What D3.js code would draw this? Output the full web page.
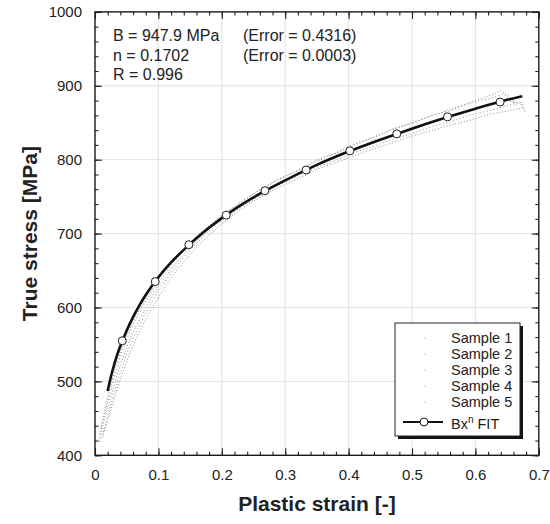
<!DOCTYPE html>
<html>
<head>
<meta charset="utf-8">
<script src="https://cdn.jsdelivr.net/npm/d3@7"></script>
<style>
  body { margin: 0; background: #fff; }
  svg text { font-family: "Liberation Sans", Arial, sans-serif; fill: #222; }
</style>
</head>
<body>
<div class="graph"></div>
<script>
// data ------------------
const xTicks = [0, 0.1, 0.2, 0.3, 0.4, 0.5, 0.6, 0.7]
const yTicks = [400, 500, 600, 700, 800, 900, 1000]

// Hollomon fit Bx^n
const fitLine = [
    [0.02, 487], [0.025, 506], [0.03, 522], [0.035, 536], [0.04, 548], [0.05, 569],
    [0.06, 587], [0.07, 603], [0.08, 617], [0.1, 641], [0.12, 661], [0.14, 678],
    [0.17, 701], [0.2, 721], [0.25, 749], [0.3, 772], [0.35, 793], [0.4, 811],
    [0.45, 827], [0.5, 842], [0.55, 856], [0.6, 869], [0.65, 881], [0.674, 886]
]
const fitMarkers = [
    [0.043, 555], [0.095, 635], [0.148, 685], [0.207, 725], [0.268, 758],
    [0.333, 786], [0.402, 812], [0.476, 835], [0.556, 858], [0.639, 878]
]

const sample1 = [
    [0.008, 428], [0.012, 447], [0.016, 463], [0.02, 478], [0.03, 512], [0.04, 540],
    [0.05, 562], [0.06, 581], [0.08, 612], [0.1, 638], [0.12, 660], [0.14, 679],
    [0.16, 696], [0.18, 711], [0.2, 725], [0.23, 743], [0.26, 759], [0.29, 773],
    [0.32, 786], [0.35, 798], [0.38, 809], [0.41, 820], [0.44, 831], [0.47, 841],
    [0.5, 850], [0.53, 859], [0.56, 868], [0.59, 877], [0.62, 886], [0.64, 893],
    [0.655, 885], [0.665, 872]
]
const sample2 = [
    [0.01, 438], [0.014, 452], [0.02, 472], [0.03, 505], [0.04, 533], [0.05, 557],
    [0.06, 577], [0.08, 608], [0.1, 634], [0.12, 657], [0.14, 677], [0.16, 694],
    [0.18, 710], [0.2, 724], [0.23, 742], [0.26, 760], [0.29, 774], [0.32, 785],
    [0.35, 800], [0.38, 809], [0.41, 822], [0.44, 830], [0.47, 842], [0.5, 849],
    [0.53, 860], [0.56, 866], [0.59, 876], [0.62, 882], [0.645, 889], [0.66, 878]
]
const sample3 = [
    [0.006, 420], [0.01, 432], [0.015, 448], [0.02, 463], [0.03, 494], [0.04, 522],
    [0.05, 546], [0.06, 567], [0.08, 600], [0.1, 628], [0.12, 652], [0.14, 672],
    [0.16, 690], [0.18, 706], [0.2, 720], [0.23, 739], [0.26, 755], [0.29, 768],
    [0.32, 782], [0.35, 793], [0.38, 806], [0.41, 815], [0.44, 826], [0.47, 834],
    [0.5, 844], [0.53, 851], [0.56, 860], [0.59, 866], [0.62, 875], [0.65, 880],
    [0.67, 877], [0.678, 866]
]
const sample4 = [
    [0.008, 418], [0.012, 428], [0.02, 452], [0.03, 484], [0.04, 512], [0.05, 537],
    [0.06, 558], [0.08, 593], [0.1, 622], [0.12, 647], [0.14, 668], [0.16, 687],
    [0.18, 703], [0.2, 717], [0.23, 736], [0.26, 751], [0.29, 766], [0.32, 777],
    [0.35, 790], [0.38, 799], [0.41, 810], [0.44, 818], [0.47, 828], [0.5, 835],
    [0.53, 845], [0.56, 851], [0.59, 860], [0.62, 866], [0.65, 873], [0.673, 878],
    [0.68, 862]
]
const sample5 = [
    [0.012, 425], [0.018, 442], [0.025, 462], [0.035, 490], [0.045, 515], [0.055, 538],
    [0.065, 558], [0.08, 584], [0.1, 614], [0.12, 640], [0.14, 662], [0.16, 681],
    [0.18, 698], [0.2, 713], [0.23, 733], [0.26, 749], [0.29, 763], [0.32, 774],
    [0.35, 787], [0.38, 796], [0.41, 806], [0.44, 815], [0.47, 823], [0.5, 832],
    [0.53, 839], [0.56, 847], [0.59, 853], [0.62, 861], [0.65, 866], [0.675, 870]
]
const samples = [sample1, sample2, sample3, sample4, sample5]
const legendNames = ['Sample 1', 'Sample 2', 'Sample 3', 'Sample 4', 'Sample 5']
const fitText = [
    ['B = 947.9 MPa', '(Error = 0.4316)'],
    ['n = 0.1702', '(Error = 0.0003)'],
    ['R = 0.996', '']
]

// config ------------------
const w = 550
const h = 524
const margin = {left: 95, right: 11.2, top: 11.9, bottom: 68.7}

const xScale = d3.scaleLinear()
    .domain([0, 0.7])
    .range([margin.left, w - margin.right])

const yScale = d3.scaleLinear()
    .domain([400, 1000])
    .range([h - margin.bottom, margin.top])

const svg = d3.select('.graph')
    .append('svg')
    .attr('width', w)
    .attr('height', h)

const x0 = xScale.range()[0], x1 = xScale.range()[1]
const y0 = yScale.range()[0], y1 = yScale.range()[1]

// grid
svg.append('g')
    .selectAll('line.vgrid')
    .data(xTicks.slice(1, -1))
    .join('line')
    .attr('x1', d => xScale(d)).attr('x2', d => xScale(d))
    .attr('y1', y1).attr('y2', y0)
    .attr('stroke', '#e2e2e2')

svg.append('g')
    .selectAll('line.hgrid')
    .data(yTicks.slice(1, -1))
    .join('line')
    .attr('x1', x0).attr('x2', x1)
    .attr('y1', d => yScale(d)).attr('y2', d => yScale(d))
    .attr('stroke', '#e2e2e2')

// axes, ticks pointing inward on all sides
const xMinor = d3.range(0, 0.7001, 0.02)
const yMinor = d3.range(400, 1000.1, 20)

function addAxis(axis, transform, labels) {
    const g = svg.append('g')
        .attr('transform', transform)
        .call(axis)
    g.select('.domain').remove()
    g.selectAll('.tick line').attr('stroke', '#222').attr('stroke-width', 1.1)
    if (!labels) g.selectAll('.tick text').remove()
    return g
}

// minor
addAxis(d3.axisBottom(xScale).tickValues(xMinor).tickSize(-3.5).tickFormat(''), `translate(0,${y0})`, false)
addAxis(d3.axisTop(xScale).tickValues(xMinor).tickSize(-3.5).tickFormat(''), `translate(0,${y1})`, false)
addAxis(d3.axisLeft(yScale).tickValues(yMinor).tickSize(-3.5).tickFormat(''), `translate(${x0},0)`, false)
addAxis(d3.axisRight(yScale).tickValues(yMinor).tickSize(-3.5).tickFormat(''), `translate(${x1},0)`, false)

// major
const xAxis = addAxis(d3.axisBottom(xScale).tickValues(xTicks).tickSize(-7).tickPadding(14.5)
    .tickFormat(d => d === 0 ? '0' : d3.format('.1f')(d)), `translate(0,${y0})`, true)
addAxis(d3.axisTop(xScale).tickValues(xTicks).tickSize(-7), `translate(0,${y1})`, false)
const yAxis = addAxis(d3.axisLeft(yScale).tickValues(yTicks).tickSize(-7).tickPadding(13)
    .tickFormat(d3.format('d')), `translate(${x0},0)`, true)
addAxis(d3.axisRight(yScale).tickValues(yTicks).tickSize(-7), `translate(${x1},0)`, false)

xAxis.selectAll('.tick text').attr('font-size', 15).attr('fill', '#222')
    .attr('font-family', '"Liberation Sans", Arial, sans-serif')
yAxis.selectAll('.tick text').attr('font-size', 15).attr('fill', '#222')
    .attr('font-family', '"Liberation Sans", Arial, sans-serif')

// frame
svg.append('rect')
    .attr('x', x0).attr('y', y1)
    .attr('width', x1 - x0).attr('height', y0 - y1)
    .attr('fill', 'none')
    .attr('stroke', '#1a1a1a')
    .attr('stroke-width', 1.4)

// samples, tiny grey dots
const sampleLine = d3.line()
    .x(d => xScale(d[0]))
    .y(d => yScale(d[1]))

svg.append('g')
    .selectAll('path.sample')
    .data(samples)
    .join('path')
    .attr('class', 'sample')
    .attr('d', sampleLine)
    .attr('fill', 'none')
    .attr('stroke', '#8c8c8c')
    .attr('stroke-width', 1)
    .attr('stroke-dasharray', (d, i) => i % 2 ? '1 2.5' : '1 2')

// fit line
svg.append('path')
    .datum(fitLine)
    .attr('d', sampleLine.curve(d3.curveMonotoneX))
    .attr('fill', 'none')
    .attr('stroke', '#111')
    .attr('stroke-width', 2.6)

svg.append('g')
    .selectAll('circle.marker')
    .data(fitMarkers)
    .join('circle')
    .attr('cx', d => xScale(d[0]))
    .attr('cy', d => yScale(d[1]))
    .attr('r', 4)
    .attr('fill', '#fff')
    .attr('stroke', '#222')
    .attr('stroke-width', 1)

// fit results
const info = svg.append('g')
fitText.forEach((row, i) => {
    info.append('text').attr('x', 113).attr('y', 41 + i * 19.5)
        .attr('font-size', 16).text(row[0])
    info.append('text').attr('x', 243).attr('y', 41 + i * 19.5)
        .attr('font-size', 16).text(row[1])
})

// axis titles
svg.append('text')
    .attr('x', (x0 + x1) / 2)
    .attr('y', 511)
    .attr('text-anchor', 'middle')
    .attr('font-size', 21)
    .attr('font-weight', 'bold')
    .text('Plastic strain [-]')

svg.append('text')
    .attr('transform', `translate(37,${(y0 + y1) / 2}) rotate(-90)`)
    .attr('text-anchor', 'middle')
    .attr('font-size', 21)
    .attr('font-weight', 'bold')
    .text('True stress [MPa]')

// legend
const lg = svg.append('g')
const box = {x: 395, y: 323, w: 125, h: 113}
lg.append('rect')
    .attr('x', box.x + 3).attr('y', box.y + 3)
    .attr('width', box.w).attr('height', box.h)
    .attr('fill', '#111')
lg.append('rect')
    .attr('x', box.x).attr('y', box.y)
    .attr('width', box.w).attr('height', box.h)
    .attr('fill', '#fff')
    .attr('stroke', '#222')
    .attr('stroke-width', 1)

legendNames.forEach((name, i) => {
    lg.append('circle').attr('cx', 425).attr('cy', 338 + i * 16)
        .attr('r', 0.6).attr('fill', '#999')
    lg.append('text').attr('x', 451).attr('y', 343 + i * 16)
        .attr('font-size', 14.5).text(name)
})
lg.append('line')
    .attr('x1', 403).attr('x2', 443)
    .attr('y1', 422).attr('y2', 422)
    .attr('stroke', '#111').attr('stroke-width', 2)
lg.append('circle').attr('cx', 424).attr('cy', 422).attr('r', 4)
    .attr('fill', '#fff').attr('stroke', '#222')
const fitLabel = lg.append('text').attr('x', 451).attr('y', 429).attr('font-size', 14.5)
fitLabel.append('tspan').text('Bx')
fitLabel.append('tspan').attr('font-size', 10).attr('dy', -6).text('n')
fitLabel.append('tspan').attr('dy', 6).text(' FIT')
</script>
</body>
</html>
